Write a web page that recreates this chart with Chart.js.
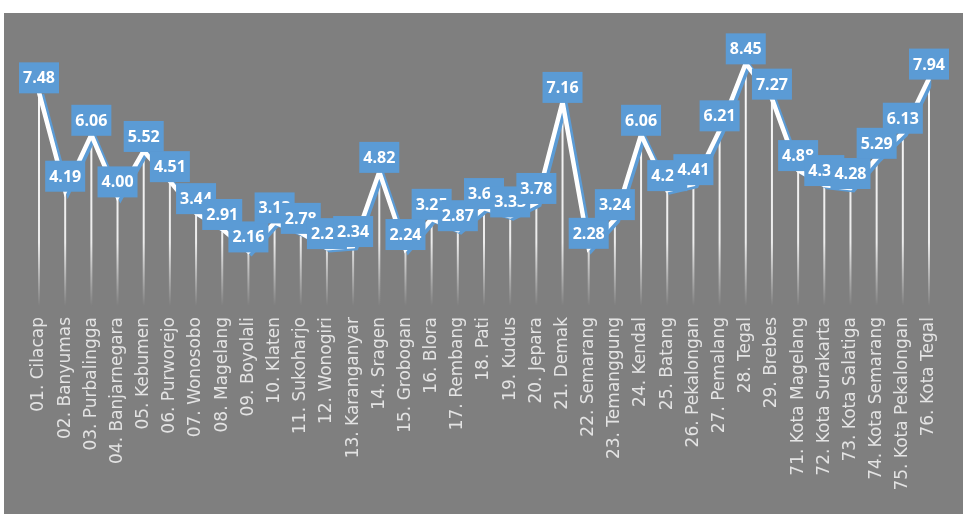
<!DOCTYPE html>
<html>
<head>
<meta charset="utf-8">
<script src="https://cdn.jsdelivr.net/npm/chart.js@4"></script>
<style>
  html, body { margin: 0; padding: 0; background: #fff; }
  #wrap { position: absolute; left: 4px; top: 13px; width: 959px; height: 501px; background: #7f7f7f; }
</style>
</head>
<body>
<div id="wrap"><canvas id="chart"></canvas></div>
<script>
const regions = [
  '01. Cilacap', '02. Banyumas', '03. Purbalingga', '04. Banjarnegara', '05. Kebumen',
  '06. Purworejo', '07. Wonosobo', '08. Magelang', '09. Boyolali', '10. Klaten',
  '11. Sukoharjo', '12. Wonogiri', '13. Karanganyar', '14. Sragen', '15. Grobogan',
  '16. Blora', '17. Rembang', '18. Pati', '19. Kudus', '20. Jepara',
  '21. Demak', '22. Semarang', '23. Temanggung', '24. Kendal', '25. Batang',
  '26. Pekalongan', '27. Pemalang', '28. Tegal', '29. Brebes', '71. Kota Magelang',
  '72. Kota Surakarta', '73. Kota Salatiga', '74. Kota Semarang', '75. Kota Pekalongan', '76. Kota Tegal'
];
const rates = [
  7.48, 4.19, 6.06, 4.00, 5.52,
  4.51, 3.44, 2.91, 2.16, 3.13,
  2.78, 2.27, 2.34, 4.82, 2.24,
  3.25, 2.87, 3.61, 3.33, 3.78,
  7.16, 2.28, 3.24, 6.06, 4.21,
  4.41, 6.21, 8.45, 7.27, 4.88,
  4.38, 4.28, 5.29, 6.13, 7.94
];
const yMin = 0;
const yMax = 10;

// vertical drop lines from each point to the axis, fading out
const dropLines = {
  id: 'dropLines',
  beforeDatasetsDraw(chart) {
    const { ctx, chartArea } = chart;
    const meta = chart.getDatasetMeta(0);
    const g = ctx.createLinearGradient(0, chartArea.top, 0, chartArea.bottom - 10);
    g.addColorStop(0, 'rgba(255,255,255,1)');
    g.addColorStop(0.78, 'rgba(255,255,255,0.85)');
    g.addColorStop(1, 'rgba(255,255,255,0)');
    ctx.save();
    ctx.strokeStyle = g;
    ctx.lineWidth = 2;
    meta.data.forEach(pt => {
      ctx.beginPath();
      ctx.moveTo(pt.x, pt.y);
      ctx.lineTo(pt.x, chartArea.bottom);
      ctx.stroke();
    });
    ctx.restore();
  }
};

// blue offset shadow under the white line
const lineShadow = {
  id: 'lineShadow',
  beforeDatasetDraw(chart) {
    const ctx = chart.ctx;
    ctx.save();
    ctx.shadowColor = '#5b9bd5';
    ctx.shadowOffsetX = 3;
    ctx.shadowOffsetY = 2;
    ctx.shadowBlur = 0;
  },
  afterDatasetDraw(chart) {
    chart.ctx.restore();
  }
};

// boxed value labels above each point
const valueBoxes = {
  id: 'valueBoxes',
  afterDatasetsDraw(chart) {
    const ctx = chart.ctx;
    const meta = chart.getDatasetMeta(0);
    ctx.save();
    ctx.font = 'bold 16px "Open Sans", sans-serif';
    ctx.textAlign = 'center';
    ctx.textBaseline = 'middle';
    meta.data.forEach((pt, i) => {
      const w = 40, h = 31;
      const top = pt.y - h + 1;
      ctx.fillStyle = '#5b9bd5';
      ctx.fillRect(pt.x - w / 2, top, w, h);
      ctx.fillStyle = '#ffffff';
      ctx.fillText(rates[i].toFixed(2), pt.x, top + h / 2 + 1);
    });
    ctx.restore();
  }
};

new Chart(document.getElementById('chart'), {
  type: 'line',
  data: {
    labels: regions,
    datasets: [{
      data: rates,
      borderColor: '#ffffff',
      borderWidth: 4.5,
      pointRadius: 0,
      tension: 0,
      fill: false
    }]
  },
  options: {
    responsive: true,
    maintainAspectRatio: false,
    animation: false,
    layout: { padding: { left: 35, right: 34, top: 4, bottom: 0 } },
    plugins: {
      legend: { display: false },
      tooltip: { enabled: false }
    },
    scales: {
      y: { display: false, min: yMin, max: yMax },
      x: {
        grid: { display: false, drawTicks: false },
        border: { display: false },
        ticks: {
          color: '#e3e3e3',
          font: { family: '"DejaVu Sans", sans-serif', size: 17 },
          maxRotation: 90,
          minRotation: 90,
          autoSkip: false,
          padding: 1
        },
        afterFit(scale) { scale.height = 198; }
      }
    }
  },
  plugins: [dropLines, lineShadow, valueBoxes]
});
</script>
</body>
</html>
